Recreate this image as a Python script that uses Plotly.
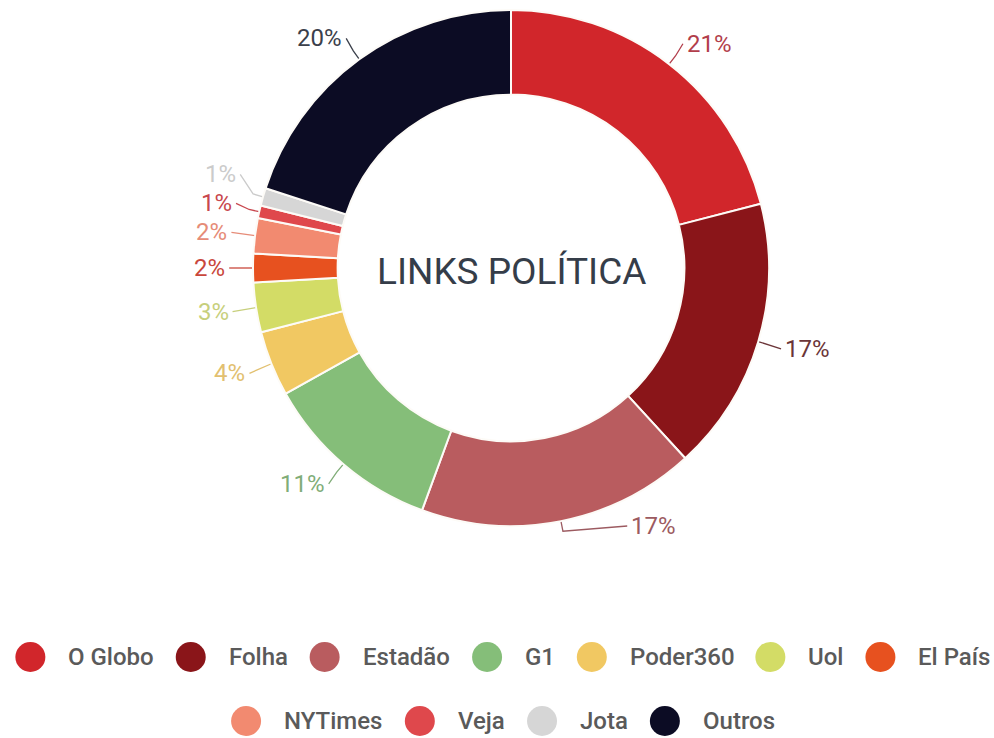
import math
import plotly.graph_objects as go

# ---------------- data ----------------
labels = ["O Globo", "Folha", "Estadão", "G1", "Poder360", "Uol", "El País",
          "NYTimes", "Veja", "Jota", "Outros"]
values = [21.0, 17.2, 17.4, 11.3, 4.1, 3.1, 1.8, 2.2, 0.8, 1.1, 20.0]
slice_colors = ["#d1262b", "#8a1519", "#b95c5f", "#85be79", "#f1c862", "#d3dc66",
                "#e7511f", "#f28a70", "#df484c", "#d6d6d6", "#0c0c24"]
label_colors = ["#b23e4b", "#6b3538", "#9c5a60", "#80ad78", "#e2c070", "#c7cf7c",
                "#c9473c", "#e68c78", "#c8474e", "#cbcbcb", "#3b404b"]
legend_rows = [labels[:7], labels[7:]]
title_text = "LINKS POLÍTICA"

# ---------------- layout constants ----------------
W, H = 994, 738
CX, CY, R = 511, 268, 258
HOLE = 0.672
FONT = "Roboto"

# approximate Roboto advance widths (em) for legend layout
CW = {' ': .248, 'O': .688, 'G': .677, 'l': .243, 'o': .570, 'b': .561, 'F': .546,
      'h': .551, 'a': .544, 'E': .568, 's': .528, 't': .327, 'd': .563, 'ã': .544,
      'P': .631, 'e': .530, 'r': .338, 'U': .648, 'í': .247, 'N': .713, 'Y': .614,
      'T': .611, 'i': .243, 'm': .875, 'V': .654, 'j': .239, 'J': .552, 'u': .551}


def text_w(s, size):
    return sum(CW.get(c, .561) for c in s) * size


fig = go.Figure()

fig.add_trace(go.Pie(
    labels=labels, values=values, sort=False, direction="clockwise", rotation=0,
    hole=HOLE, textinfo="none", hoverinfo="skip", showlegend=False,
    marker=dict(colors=slice_colors, line=dict(color="#fdfbf7", width=2)),
    domain=dict(x=[(CX - R) / W, (CX + R) / W], y=[1 - (CY + R) / H, 1 - (CY - R) / H]),
))

# ---------------- outside labels with leader lines ----------------
total = sum(values)
cum = 0.0
items = []
for i, v in enumerate(values):
    ang = (cum + v / 2) / total * 2 * math.pi
    cum += v
    s, c = math.sin(ang), math.cos(ang)
    rl = 1.1 * R
    ax, ay = CX + rl * s, CY - rl * c
    if abs(ay - CY) > R:
        ay = CY + math.copysign(R, ay - CY)
        ax = CX + math.copysign(math.sqrt(rl ** 2 - R ** 2), s)
    items.append(dict(i=i, s=s, c=c, ax=ax, ay=ay, right=s > 0))

# push overlapping labels on the left side upward
prev = None
for it in items:
    if it["right"]:
        continue
    if prev is not None and it["ay"] > prev["ay"] - 29:
        it["ay"] = prev["ay"] - 29
    prev = it

annotations = []
for it in items:
    i, s, c = it["i"], it["s"], it["c"]
    x0, y0 = CX + R * s, CY - R * c
    x1, y1 = CX + 1.04 * R * s, CY - 1.04 * R * c
    x2 = it["ax"] + (-2 if it["right"] else 2)
    fig.add_trace(go.Scatter(
        x=[x0, x1, x2], y=[y0, y1, it["ay"]], mode="lines",
        line=dict(color=label_colors[i], width=1.3),
        hoverinfo="skip", showlegend=False))
    pct = round(values[i] / total * 100)
    annotations.append(dict(
        x=it["ax"], y=it["ay"], xref="x", yref="y", showarrow=False,
        xanchor="left" if it["right"] else "right", yanchor="middle",
        text=f"{pct}%", font=dict(family=FONT, size=24, color=label_colors[i])))

# center title
annotations.append(dict(
    x=CX, y=CY + 3, xref="x", yref="y", showarrow=False, text=title_text,
    font=dict(family=FONT, size=37, color="#353d49")))

# ---------------- custom legend with large circles ----------------
LEG_SIZE = 24
CIRCLE_D = 30
GAP_TEXT = 36
GAP_NEXT = 39
ROW_Y = [657, 721]
ROW_CENTER = 502
for row, ry in zip(legend_rows, ROW_Y):
    widths = [text_w(n, LEG_SIZE) for n in row]
    tot = CIRCLE_D / 2 + sum(GAP_TEXT + w for w in widths) + GAP_NEXT * (len(row) - 1)
    cx = ROW_CENTER - tot / 2 + CIRCLE_D / 2
    xs, cols = [], []
    for name, w in zip(row, widths):
        xs.append(cx)
        cols.append(slice_colors[labels.index(name)])
        annotations.append(dict(
            x=cx + GAP_TEXT, y=ry, xref="x", yref="y", showarrow=False,
            xanchor="left", yanchor="middle", text=name,
            font=dict(family=FONT, size=LEG_SIZE, weight=500, color="#5a5a5a")))
        cx += GAP_TEXT + w + GAP_NEXT
    fig.add_trace(go.Scatter(
        x=xs, y=[ry] * len(xs), mode="markers",
        marker=dict(size=CIRCLE_D, color=cols, line=dict(width=0)),
        hoverinfo="skip", showlegend=False))

fig.update_layout(
    width=W, height=H, margin=dict(l=0, r=0, t=0, b=0),
    paper_bgcolor="white", plot_bgcolor="white", showlegend=False,
    xaxis=dict(range=[0, W], visible=False, fixedrange=True),
    yaxis=dict(range=[H, 0], visible=False, fixedrange=True),
    annotations=annotations,
)

fig.write_html("out.html")
